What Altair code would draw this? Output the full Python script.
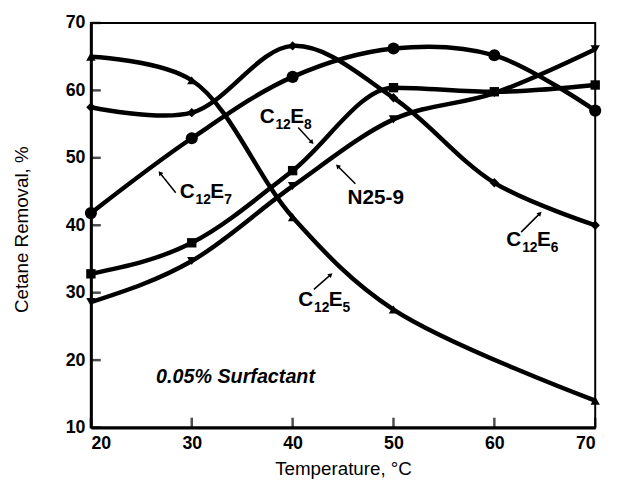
import math
import altair as alt
import pandas as pd

# ---- data ----
temps = [20, 30, 40, 50, 60, 70]
c12e5_t = [20, 30, 40, 50, 70]
c12e5_v = [65.0, 61.5, 41.2, 27.5, 14.0]
c12e6_v = [57.5, 56.7, 66.6, 58.9, 46.3, 40.0]
c12e7_v = [41.8, 52.9, 62.0, 66.2, 65.2, 57.0]
c12e8_v = [32.8, 37.4, 48.1, 60.4, 59.8, 60.8]
n259_v = [28.6, 34.7, 45.8, 55.7, 59.6, 66.1]

x_ticks = [20, 30, 40, 50, 60, 70]
y_ticks = [10, 20, 30, 40, 50, 60, 70]

# subscripted labels: E-number, text anchor (x, y) in data units
lab_num = ["8", "7", "6", "5"]
lab_x = [36.73, 28.81, 61.19, 40.55]
lab_y = [55.22, 44.10, 36.93, 28.00]

# annotation arrows (tail -> head) in data units
arr_x1 = [40.55, 28.41, 46.22, 62.66, 42.11]
arr_y1 = [54.49, 44.83, 46.15, 38.98, 30.49]
arr_x2 = [41.92, 26.85, 44.46, 64.52, 43.78]
arr_y2 = [52.29, 47.76, 48.78, 41.76, 32.68]

W, H = 511, 410
FONT = "Liberation Sans"

xs = alt.Scale(domain=[20, 70], nice=False, zero=False)
ys = alt.Scale(domain=[10, 70], nice=False, zero=False)

x_axis = alt.Axis(values=x_ticks, tickSize=0, domainWidth=3, domainColor="black",
                  labelFont=FONT, labelFontSize=18, labelFontWeight="bold",
                  labelColor="black", labelPadding=7, grid=False,
                  title="Temperature,  °C", titleFont=FONT, titleFontSize=19,
                  titleFontWeight="normal", titleColor="black",
                  titleY=48, titleBaseline="alphabetic")
y_axis = alt.Axis(values=y_ticks, tickSize=0, domainWidth=3, domainColor="black",
                  labelFont=FONT, labelFontSize=18, labelFontWeight="bold",
                  labelColor="black", labelPadding=6, grid=False,
                  title="Cetane Removal, %", titleFont=FONT, titleFontSize=19,
                  titleFontWeight="normal", titleColor="black",
                  titleX=-70, titleY=209, titleAngle=-90, titleBaseline="middle")


def X(field):
    return alt.X(field, scale=xs, axis=x_axis)


def Y(field):
    return alt.Y(field, scale=ys, axis=y_axis)


series = [
    ("C12E5", c12e5_t, c12e5_v, "triangle-up", 90, "catmull-rom"),
    ("C12E6", temps, c12e6_v, "diamond", 90, "catmull-rom"),
    ("C12E7", temps, c12e7_v, "circle", 150, "catmull-rom"),
    ("C12E8", temps, c12e8_v, "square", 90, "monotone"),
    ("N25-9", temps, n259_v, "triangle-down", 90, "monotone"),
]

layers = []
for name, tx, vy, shape, size, interp in series:
    df = pd.DataFrame({"T": tx, "R": vy, "s": name})
    base = alt.Chart(df)
    layers.append(base.mark_line(color="black", strokeWidth=4.5, interpolate=interp)
                  .encode(x=X("T:Q"), y=Y("R:Q")))
    layers.append(base.mark_point(shape=shape, filled=True, color="black", opacity=1,
                                  size=size).encode(x=X("T:Q"), y=Y("R:Q")))

# inward ticks
xt = pd.DataFrame({"T": x_ticks, "b": [10] * len(x_ticks)})
yt = pd.DataFrame({"R": y_ticks, "l": [20] * len(y_ticks)})
layers.append(alt.Chart(xt).mark_tick(orient="vertical", size=10, thickness=2.5,
                                      color="black", yOffset=-5)
              .encode(x=X("T:Q"), y=Y("b:Q")))
layers.append(alt.Chart(yt).mark_tick(orient="horizontal", size=10, thickness=2.5,
                                      color="black", xOffset=5)
              .encode(y=Y("R:Q"), x=X("l:Q")))

# subscripted labels
lab = pd.DataFrame({"x": lab_x, "y": lab_y, "n": lab_num,
                    "C": ["C"] * 4, "s": ["12"] * 4, "E": ["E"] * 4})
lbase = alt.Chart(lab)
for field, dx, dy, fs in [("C", 0, 0, 21), ("s", 16, 6, 14), ("E", 31, 0, 21), ("n", 45, 6, 14)]:
    layers.append(lbase.mark_text(align="left", baseline="alphabetic", dx=dx, dy=dy,
                                  font=FONT, fontSize=fs, fontWeight="bold", color="black")
                  .encode(x=X("x:Q"), y=Y("y:Q"), text=f"{field}:N"))

n_lab = pd.DataFrame({"x": [45.44], "y": [43.22], "t": ["N25-9"]})
layers.append(alt.Chart(n_lab).mark_text(align="left", baseline="alphabetic", font=FONT,
                                         fontSize=21, fontWeight="bold", color="black")
              .encode(x=X("x:Q"), y=Y("y:Q"), text="t:N"))

note = pd.DataFrame({"x": [26.46], "y": [16.59], "t": ["0.05% Surfactant"]})
layers.append(alt.Chart(note).mark_text(align="left", baseline="alphabetic", font=FONT,
                                        fontSize=20, fontWeight="bold", fontStyle="italic",
                                        color="black")
              .encode(x=X("x:Q"), y=Y("y:Q"), text="t:N"))

# arrows
px_per_x = W / 50.0
px_per_y = H / 60.0
angs = []
for a, b, c, d in zip(arr_x1, arr_y1, arr_x2, arr_y2):
    dxp = (c - a) * px_per_x
    dyp = -(d - b) * px_per_y
    angs.append(math.degrees(math.atan2(dxp, -dyp)) % 360)
arr = pd.DataFrame({"x1": arr_x1, "y1": arr_y1, "x2": arr_x2, "y2": arr_y2, "ang": angs})
layers.append(alt.Chart(arr).mark_rule(color="black", strokeWidth=1.5)
              .encode(x=X("x1:Q"), y=Y("y1:Q"), x2="x2:Q", y2="y2:Q"))
layers.append(alt.Chart(arr).mark_point(shape="triangle-up", filled=True, color="black",
                                        opacity=1, size=28)
              .encode(x=X("x2:Q"), y=Y("y2:Q"), angle=alt.Angle("ang:Q", scale=None)))

chart = alt.layer(*layers).properties(
    width=W, height=H,
    padding={"left": 84, "top": 12, "right": 16, "bottom": 52},
    autosize=alt.AutoSizeParams(type="none"),
    background="white",
).configure_view(stroke="black", strokeWidth=2)

chart.save("out.html", embed_options={"renderer": "svg", "actions": False})
